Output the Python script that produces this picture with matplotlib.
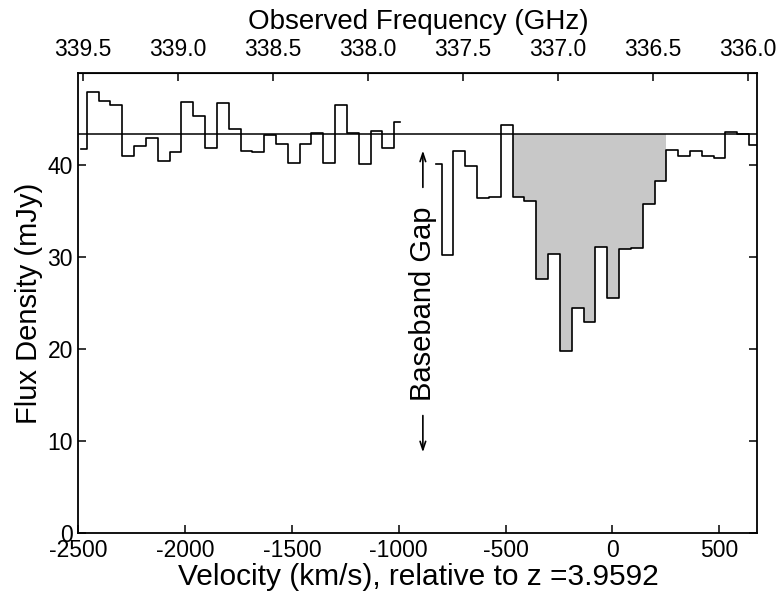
import numpy as np
import matplotlib
matplotlib.use("Agg")
import matplotlib.pyplot as plt

plt.rcParams['font.family'] = ['Liberation Sans', 'DejaVu Sans']
plt.rcParams['axes.unicode_minus'] = False

# channel grid (km/s)
v_first = -2489.0
dv = 55.4

# flux density (mJy) before the baseband gap, channels 0..27
flux_left = [41.8, 48.0, 47.0, 46.6, 41.0, 42.1, 43.0, 40.5, 41.5, 46.9,
             45.4, 41.9, 46.8, 44.0, 41.6, 41.5, 43.3, 42.3, 40.2, 42.3,
             43.5, 40.2, 46.6, 43.5, 40.1, 43.7, 41.9, 44.7]
# after the gap, channels 30..58
flux_right = [40.1, 30.3, 41.6, 39.9, 36.5, 36.6, 44.4, 36.6, 36.1, 27.6,
              30.4, 19.8, 24.5, 23.0, 31.1, 25.6, 30.9, 31.0, 35.8, 38.3,
              41.7, 41.0, 41.6, 41.0, 40.8, 43.6, 43.4, 42.2, 42.2]
right_start = 30
continuum = 43.4
# absorption channels shaded (index range in flux_right)
fill_lo, fill_hi = 7, 19

nu0 = 336.715  # GHz at v = 0
c_kms = 299792.458
freq_ticks = [339.5, 339.0, 338.5, 338.0, 337.5, 337.0, 336.5, 336.0]

v_left = v_first + dv * np.arange(len(flux_left))
v_right = v_first + dv * (right_start + np.arange(len(flux_right)))

fig = plt.figure(figsize=(7.8, 5.97), dpi=100)
ax = fig.add_axes([0.1006, 0.1067, 0.8705, 0.7705])

# shaded absorption
fr = np.array(flux_right[fill_lo:fill_hi + 1])
vc = v_right[fill_lo:fill_hi + 1]
edges = np.append(vc - dv / 2, vc[-1] + dv / 2)
ax.stairs(fr, edges, baseline=continuum, fill=True, color='#c8c8c8', lw=0)

ax.plot(v_left, flux_left, drawstyle='steps-mid', color='black', lw=1.2)
ax.plot(v_right, flux_right, drawstyle='steps-mid', color='black', lw=1.2)
ax.axhline(continuum, color='black', lw=1.1)

# baseband gap annotation
xg = -887
ax.annotate('', xy=(xg, 41.9), xytext=(xg, 37.3),
            arrowprops=dict(arrowstyle='->,head_length=0.6,head_width=0.2', lw=1.2, color='black'))
ax.annotate('', xy=(xg, 8.5), xytext=(xg, 13.1),
            arrowprops=dict(arrowstyle='->,head_length=0.6,head_width=0.2', lw=1.2, color='black'))
ax.text(xg, 25.0, 'Baseband Gap', rotation=90, ha='center', va='center', fontsize=21)

ax.set_xlim(-2500, 680)
ax.set_ylim(0, 50)
ax.set_xticks([-2500, -2000, -1500, -1000, -500, 0, 500])
ax.set_yticks([0, 10, 20, 30, 40])
ax.tick_params(direction='in', length=6, width=1.1, labelsize=16.5,
               right=True, top=False, pad=4)
for s in ax.spines.values():
    s.set_linewidth(1.3)

ax.set_xlabel('Velocity (km/s), relative to z =3.9592', fontsize=21.5, labelpad=1)
ax.set_ylabel('Flux Density (mJy)', fontsize=21, labelpad=3)


def v2nu(v):
    return nu0 * (1 - np.asarray(v) / c_kms)


def nu2v(nu):
    return c_kms * (1 - np.asarray(nu) / nu0)


secax = ax.secondary_xaxis('top', functions=(v2nu, nu2v))
secax.set_xticks(freq_ticks)
secax.set_xticklabels(['%.1f' % f for f in freq_ticks])
secax.tick_params(direction='in', length=6, width=1.1, labelsize=16.5, pad=9)
secax.set_xlabel('Observed Frequency (GHz)', fontsize=20, labelpad=6)

fig.savefig('out.png', dpi=100)
